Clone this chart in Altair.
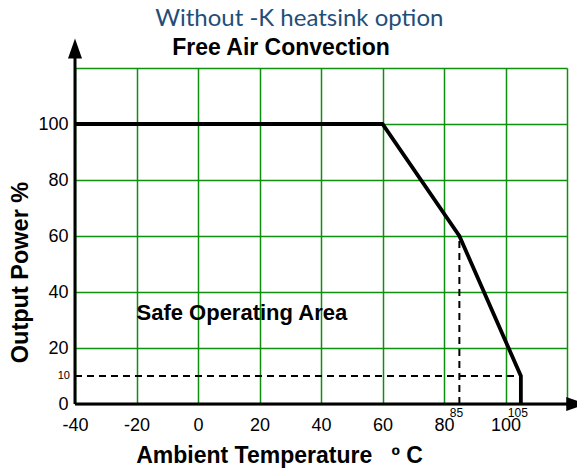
import altair as alt
import pandas as pd

# Derating curve
temps = [-40, 60, 85, 105, 105]
power = [100, 100, 60, 10, 0]

# Dashed guide lines
guide_t = [-40, 85]
guide_t2 = [105, 85]
guide_p = [10, 0]
guide_p2 = [10, 60]

# Axis lines with arrow heads (data space)
axis_t = [-40, -40]
axis_t2 = [-40, 122]
axis_p = [0, 0]
axis_p2 = [124, 0]
arrow_t = [-40, 123]
arrow_p = [127, 0]
arrow_dir = ["up", "right"]

# Small annotation labels
note_t = [-40, 85, 105]
note_p = [10, 0, 0]
note_text = ["10", "85", "105"]

x_ticks = [-40, -20, 0, 20, 40, 60, 80, 100, 120]
y_ticks = [0, 20, 40, 60, 80, 100, 120]

GREEN = "#0f8f0f"
FONT = "Liberation Sans"
NB = "\u00a0"

xs = alt.Scale(domain=[-40, 120], nice=False, zero=False)
ys = alt.Scale(domain=[0, 120], nice=False, zero=False)

label_expr = "datum.value >= 120 ? '' : replace(datum.label, '\u2212', '-')"

x_axis = alt.Axis(values=x_ticks, grid=True, gridColor=GREEN, gridWidth=1.5, gridOpacity=1,
                  ticks=False, domain=False, labelFlush=False, labelOverlap=False,
                  labelExpr=label_expr,
                  labelFont=FONT, labelFontSize=18, labelColor="black", labelPadding=12,
                  title="Ambient Temperature" + NB + NB + NB + "º" + NB + "C",
                  titleFont=FONT, titleFontSize=23,
                  titleFontWeight="bold", titleColor="black",
                  titleX=204, titleY=58, titleBaseline="alphabetic", titleAlign="center")
y_axis = alt.Axis(values=y_ticks, grid=True, gridColor=GREEN, gridWidth=1.5, gridOpacity=1,
                  ticks=False, domain=False, labelFlush=False, labelOverlap=False,
                  labelExpr=label_expr,
                  labelFont=FONT, labelFontSize=18, labelColor="black", labelPadding=7,
                  title="Output Power %", titleFont=FONT, titleFontSize=23.5,
                  titleFontWeight="bold", titleColor="black",
                  titleAngle=270, titleX=-55, titleY=204, titleBaseline="middle", titleAlign="center")

X = alt.X("t:Q", scale=xs, axis=x_axis)
Y = alt.Y("p:Q", scale=ys, axis=y_axis)

curve_df = pd.DataFrame({"t": temps, "p": power})
guide_df = pd.DataFrame({"t": guide_t, "t2": guide_t2, "p": guide_p, "p2": guide_p2})
axis_df = pd.DataFrame({"t": axis_t, "t2": axis_t2, "p": axis_p, "p2": axis_p2})
arrow_df = pd.DataFrame({"t": arrow_t, "p": arrow_p, "d": arrow_dir})
note_df = pd.DataFrame({"t": note_t, "p": note_p, "label": note_text})
soa_df = pd.DataFrame({"t": [-20], "p": [30], "label": ["Safe Operating Area"]})

guides = alt.Chart(guide_df).mark_rule(color="black", strokeWidth=2, strokeDash=[7, 5]).encode(
    x=X, x2="t2:Q", y=Y, y2="p2:Q")

curve = alt.Chart(curve_df).mark_line(color="black", strokeWidth=3.8, strokeJoin="miter").encode(
    x=X, y=Y, order=alt.Order("p:Q", sort="descending"))

axes = alt.Chart(axis_df).mark_rule(color="black", strokeWidth=3).encode(
    x=X, x2="t2:Q", y=Y, y2="p2:Q")

up = alt.Chart(arrow_df[arrow_df.d == "up"]).mark_point(
    shape="M -0.7 1 L 0 -1 L 0.7 1 Z", filled=True, color="black", size=400, opacity=1).encode(x=X, y=Y)
right = alt.Chart(arrow_df[arrow_df.d == "right"]).mark_point(
    shape="M -1 -0.7 L 1 0 L -1 0.7 Z", filled=True, color="black", size=400, opacity=1).encode(x=X, y=Y)

note10 = alt.Chart(note_df[note_df.label == "10"]).mark_text(
    font=FONT, fontSize=11, align="right", baseline="middle", dx=-5, color="black").encode(
    x=X, y=Y, text="label:N")
note_x = alt.Chart(note_df[note_df.label != "10"]).mark_text(
    font=FONT, fontSize=12, align="center", baseline="top", dy=4, dx=-3, color="black").encode(
    x=X, y=Y, text="label:N")

soa = alt.Chart(soa_df).mark_text(
    font=FONT, fontSize=22, fontWeight="bold", align="left", baseline="alphabetic", color="black").encode(
    x=X, y=Y, text="label:N")

chart = alt.layer(guides, curve, axes, up, right, note10, note_x, soa).properties(
    width=492, height=336,
    padding={"left": 67, "top": 60, "right": 10, "bottom": 66},
    autosize=alt.AutoSizeParams(type="none"),
    title=alt.TitleParams(
        text="\u200b" + NB * 6 + "Without -K heatsink option", subtitle="Free Air Convection",
        font="Lato", fontSize=24, fontWeight="normal", color="#1f4e79",
        subtitleFont=FONT, subtitleFontSize=23, subtitleFontWeight="bold", subtitleColor="black",
        anchor="middle", frame="group", dx=-40, offset=-22, subtitlePadding=6),
).configure_view(strokeWidth=0).configure(background="white")

chart.save("out.html", embed_options={"renderer": "svg", "actions": False})
